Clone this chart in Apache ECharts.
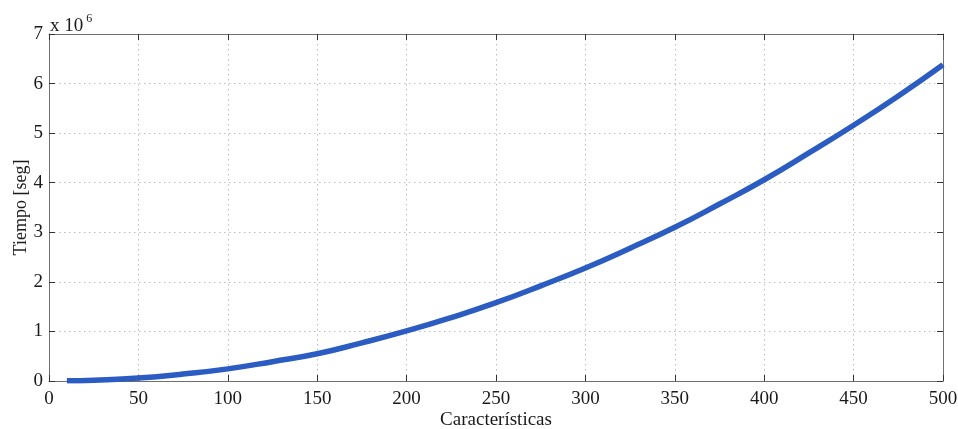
<!DOCTYPE html>
<html>
<head>
<meta charset="utf-8">
<script src="https://cdn.jsdelivr.net/npm/echarts@6/dist/echarts.min.js"></script>
<style>html,body{margin:0;padding:0;background:#fff}#c{width:958px;height:429px}</style>
</head>
<body>
<div id="c"></div>
<script>
// Características (x) and Tiempo [seg] in units of 10^6 (y)
var features = [10, 25, 50, 75, 100, 125, 150, 175, 200, 225, 250, 275, 300, 325, 350, 375, 400, 425, 450, 475, 500];
var timeMillions = [0.003, 0.016, 0.06, 0.14, 0.245, 0.39, 0.55, 0.77, 1.01, 1.28, 1.58, 1.92, 2.28, 2.68, 3.1, 3.57, 4.06, 4.6, 5.16, 5.75, 6.38];
var xTicks = [0, 50, 100, 150, 200, 250, 300, 350, 400, 450, 500];
var yTicks = [0, 1, 2, 3, 4, 5, 6, 7];

var points = features.map(function (x, i) { return [x, timeMillions[i]]; });
var font = 'Liberation Serif';
var axisColor = '#707070';
var gridLine = { show: true, lineStyle: { color: '#b4bfca', type: [1.5, 3.5], width: 1 } };

var chart = echarts.init(document.getElementById('c'));
chart.setOption({
  animation: false,
  grid: { left: 49, right: 15, top: 34, bottom: 48, containLabel: false, outerBoundsMode: 'none' },
  xAxis: [{
    type: 'value', min: xTicks[0], max: xTicks[xTicks.length - 1], interval: 50,
    name: 'Características', nameLocation: 'middle', nameGap: 30, nameMoveOverlap: false,
    nameTextStyle: { fontFamily: font, fontSize: 19, color: '#1a1a1a' },
    axisLine: { show: true, onZero: false, lineStyle: { color: axisColor, width: 1 } },
    axisTick: { show: true, inside: true, length: 6, lineStyle: { color: '#333' } },
    axisLabel: { fontFamily: font, fontSize: 19, color: '#1a1a1a', margin: 9 },
    splitLine: gridLine
  }, {
    type: 'value', position: 'top', min: xTicks[0], max: xTicks[xTicks.length - 1], interval: 50,
    axisLine: { show: true, onZero: false, lineStyle: { color: axisColor, width: 1 } },
    axisTick: { show: true, inside: true, length: 6, lineStyle: { color: '#333' } },
    axisLabel: { show: false }, splitLine: { show: false }
  }],
  yAxis: [{
    type: 'value', min: yTicks[0], max: yTicks[yTicks.length - 1], interval: 1,
    name: 'Tiempo [seg]', nameLocation: 'middle', nameGap: 19, nameRotate: 90, nameMoveOverlap: false,
    nameTextStyle: { fontFamily: font, fontSize: 18, color: '#1a1a1a' },
    axisLine: { show: true, onZero: false, lineStyle: { color: axisColor, width: 1 } },
    axisTick: { show: true, inside: true, length: 6, lineStyle: { color: '#333' } },
    axisLabel: { fontFamily: font, fontSize: 19, color: '#1a1a1a', margin: 6 },
    splitLine: gridLine
  }, {
    type: 'value', position: 'right', min: yTicks[0], max: yTicks[yTicks.length - 1], interval: 1,
    axisLine: { show: true, onZero: false, lineStyle: { color: axisColor, width: 1 } },
    axisTick: { show: true, inside: true, length: 6, lineStyle: { color: '#333' } },
    axisLabel: { show: false }, splitLine: { show: false }
  }],
  graphic: [{
    type: 'text', left: 50, top: 13,
    style: {
      text: 'x 10{s|6}', fontFamily: font, fontSize: 19, fill: '#1a1a1a',
      rich: { s: { fontFamily: font, fontSize: 12, fill: '#1a1a1a', padding: [0, 0, 14, 3] } }
    }
  }],
  series: [{
    type: 'line', data: points, smooth: true, showSymbol: false,
    lineStyle: { color: '#2b5cc2', width: 5.5 }, z: 5
  }]
});
</script>
</body>
</html>
